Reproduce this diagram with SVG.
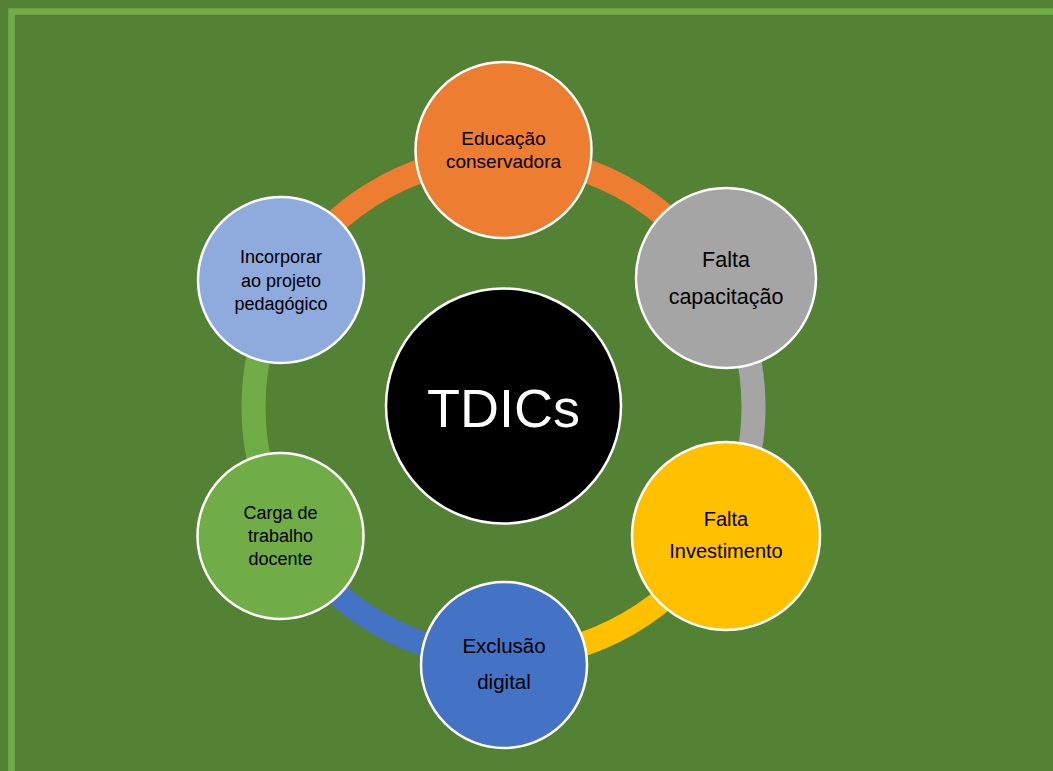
<svg xmlns="http://www.w3.org/2000/svg" width="1053" height="771" viewBox="0 0 1053 771">
<style>
.ring{fill:none;stroke-width:24}
.node{stroke:#ffffff;stroke-width:2.5}
.lbl{font-family:"Liberation Sans",Arial,sans-serif;fill:#000000;text-anchor:middle}
</style>
<rect x="0" y="0" width="1053" height="771" fill="#548235"/>
<rect x="11.5" y="11.5" width="1100" height="800" fill="none" stroke="#70AD47" stroke-width="6.5"/>
<g id="connectors">
<path class="ring" stroke="#ED7D31" d="M287,282 A250,250 0 0 1 720,282"/>
<path class="ring" stroke="#A5A5A5" d="M720,282 A250,250 0 0 1 720,532"/>
<path class="ring" stroke="#FFC000" d="M720,532 A250,250 0 0 1 503.5,657"/>
<path class="ring" stroke="#4472C4" d="M503.5,657 A250,250 0 0 1 287,532"/>
<path class="ring" stroke="#70AD47" d="M287,532 A250,250 0 0 1 287,282"/>
</g>
<g id="center">
<circle class="node" cx="503.5" cy="406" r="117.5" fill="#000000"/>
<text x="503.5" y="427" font-family="Liberation Sans, Arial, sans-serif" font-size="54" fill="#ffffff" text-anchor="middle">TDICs</text>
</g>
<g id="educacao">
<circle class="node" cx="503.5" cy="150" r="88" fill="#ED7D31"/>
<text class="lbl" font-size="19"><tspan x="503.5" y="145">Educação</tspan><tspan x="503.5" y="168">conservadora</tspan></text>
</g>
<g id="capacitacao">
<circle class="node" cx="726" cy="278" r="90" fill="#A5A5A5"/>
<text class="lbl" font-size="21.5"><tspan x="726" y="267">Falta</tspan><tspan x="726" y="304">capacitação</tspan></text>
</g>
<g id="investimento">
<circle class="node" cx="726" cy="536" r="94" fill="#FFC000"/>
<text class="lbl" font-size="20"><tspan x="726" y="526">Falta</tspan><tspan x="726" y="558">Investimento</tspan></text>
</g>
<g id="exclusao">
<circle class="node" cx="504" cy="665" r="83" fill="#4472C4"/>
<text class="lbl" font-size="20.5"><tspan x="504" y="653">Exclusão</tspan><tspan x="504" y="689">digital</tspan></text>
</g>
<g id="carga">
<circle class="node" cx="280.5" cy="536" r="83" fill="#70AD47"/>
<text class="lbl" font-size="18"><tspan x="280.5" y="519">Carga de</tspan><tspan x="280.5" y="542">trabalho</tspan><tspan x="280.5" y="565">docente</tspan></text>
</g>
<g id="incorporar">
<circle class="node" cx="281" cy="280" r="83" fill="#8FAADC"/>
<text class="lbl" font-size="18"><tspan x="281" y="263">Incorporar</tspan><tspan x="281" y="287">ao projeto</tspan><tspan x="281" y="310">pedagógico</tspan></text>
</g>
</svg>
